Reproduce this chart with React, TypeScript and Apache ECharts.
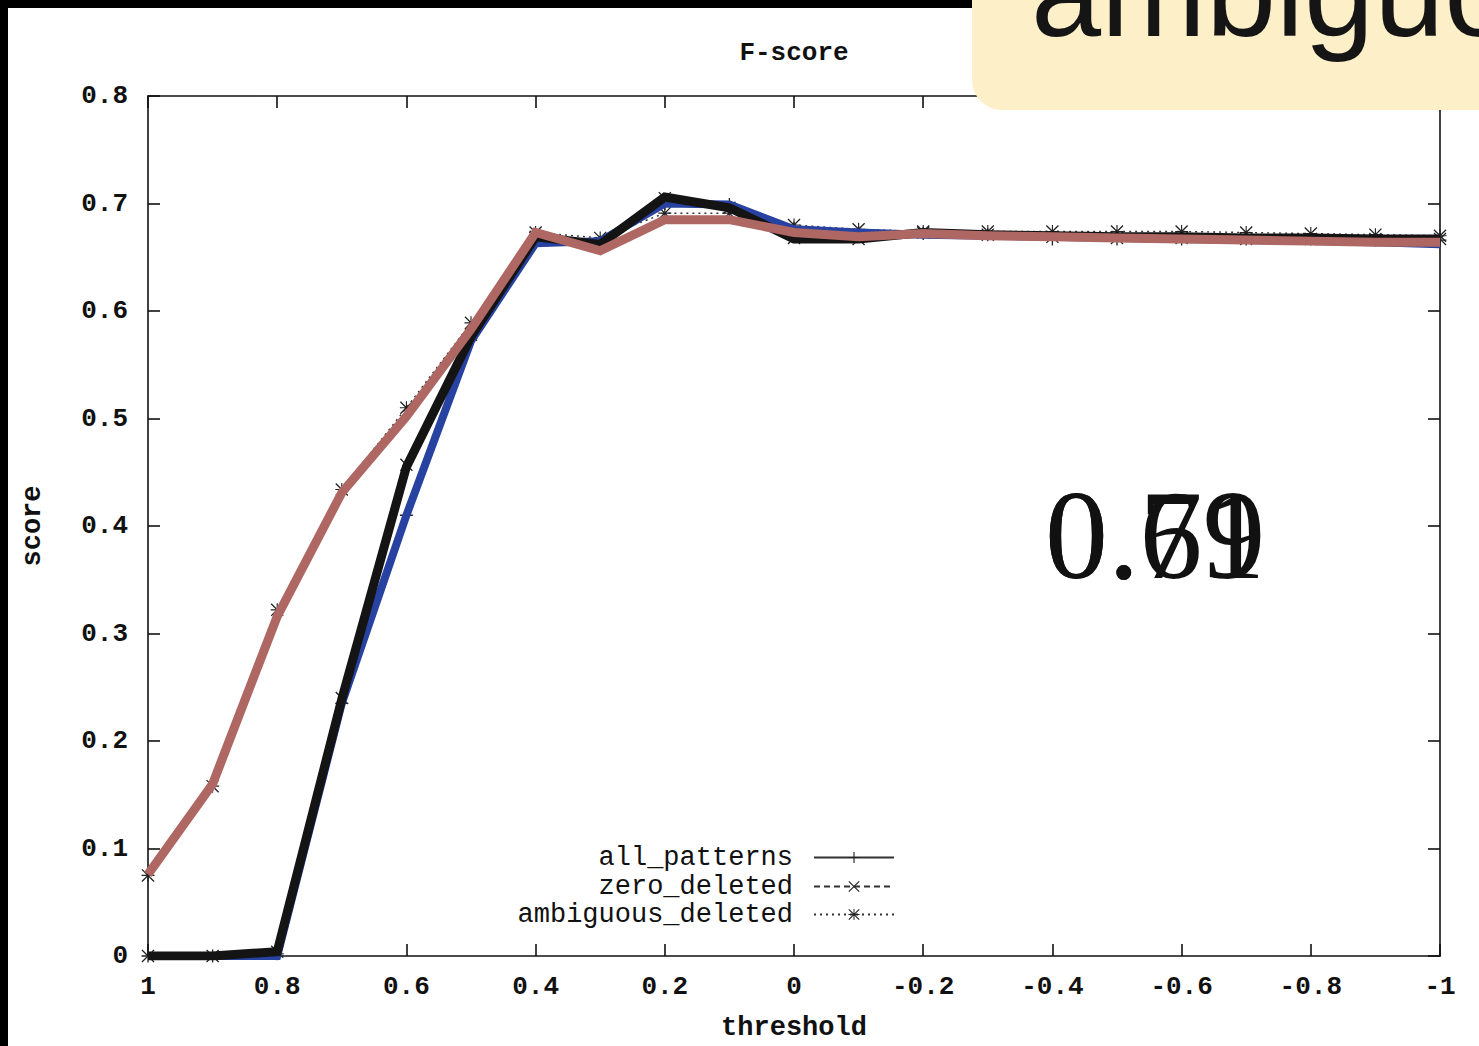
import React, { useEffect, useRef } from "react";
import * as echarts from "echarts";

// threshold values (x axis, reversed: 1 on the left, -1 on the right)
const thresholds = [1, 0.9, 0.8, 0.7, 0.6, 0.5, 0.4, 0.3, 0.2, 0.1, 0, -0.1, -0.2, -0.3, -0.4, -0.5, -0.6, -0.7, -0.8, -0.9, -1];

// gnuplot series (thin, with point markers)
const allPatterns = [0, 0, 0.002, 0.235, 0.41, 0.575, 0.665, 0.664, 0.7, 0.699, 0.677, 0.673, 0.672, 0.671, 0.667, 0.667, 0.667, 0.667, 0.667, 0.666, 0.666];
const zeroDeleted = [0, 0, 0.004, 0.24, 0.457, 0.578, 0.669, 0.662, 0.705, 0.696, 0.668, 0.667, 0.673, 0.671, 0.669, 0.668, 0.668, 0.667, 0.667, 0.667, 0.667];
const ambiguousDeleted = [0.075, 0.158, 0.322, 0.434, 0.51, 0.589, 0.673, 0.668, 0.691, 0.691, 0.68, 0.676, 0.674, 0.674, 0.674, 0.674, 0.674, 0.673, 0.672, 0.671, 0.67];

// hand-drawn thick overlays
const blueOverlay = [0, 0, 0, 0.235, 0.41, 0.572, 0.663, 0.665, 0.7, 0.699, 0.676, 0.673, 0.671, 0.67, 0.669, 0.668, 0.667, 0.666, 0.665, 0.664, 0.662];
const blackOverlay = [0, 0, 0.004, 0.239, 0.455, 0.576, 0.669, 0.662, 0.706, 0.696, 0.667, 0.667, 0.673, 0.671, 0.67, 0.669, 0.669, 0.668, 0.668, 0.667, 0.667];
const brownOverlay = [0.076, 0.16, 0.316, 0.431, 0.502, 0.583, 0.673, 0.656, 0.685, 0.685, 0.673, 0.669, 0.672, 0.67, 0.669, 0.668, 0.667, 0.666, 0.665, 0.664, 0.664];

const seriesNames = ["all_patterns", "zero_deleted", "ambiguous_deleted"];
const overlayTexts = ["0.79", "0.61"];
const bannerText = "ambiguous";

const PLUS = "path://M0,6.3H14V7.7H0Z M6.3,0H7.7V14H6.3Z";
const CROSS = "path://M1,0 L14,13 L13,14 L0,1Z M13,0 L14,1 L1,14 L0,13Z";
const STAR = "path://M0,6.4H14V7.6H0Z M6.4,0H7.6V14H6.4Z M1,0 L14,13 L13,14 L0,1Z M13,0 L14,1 L1,14 L0,13Z";

const MONO = "'Liberation Mono', 'DejaVu Sans Mono', monospace";

function pairs(ys: number[]) {
  return thresholds.map((x, i) => [x, ys[i]]);
}

function fmt(v: number) {
  const r = Math.round(v * 10) / 10;
  if (r === 0) return "0";
  if (Number.isInteger(r)) return String(r);
  return r.toFixed(1);
}

export default function App() {
  const ref = useRef<HTMLDivElement>(null);
  useEffect(() => {
    document.body.style.margin = "0";
    document.body.style.overflow = "hidden";
    const chart = echarts.init(ref.current!, null, { renderer: "svg" });
    const axisLine = { show: true, onZero: false, lineStyle: { color: "#111", width: 1.6 } };
    const tick = { show: true, inside: true, length: 12, lineStyle: { color: "#111", width: 1.6 } };
    const labelStyle = { fontFamily: MONO, fontSize: 26, fontWeight: "bold" as const, color: "#111" };
    const thin = (name: string, ys: number[], type: any, symbol: string) => ({
      name,
      type: "line",
      data: pairs(ys),
      symbol,
      symbolSize: 13,
      showSymbol: true,
      z: 2,
      lineStyle: { color: "#333", width: 1.4, type },
      itemStyle: { color: "#222" },
    });
    const thick = (ys: number[], color: string, width: number, z: number) => ({
      type: "line",
      data: pairs(ys),
      showSymbol: false,
      symbol: "none",
      z,
      lineStyle: { color, width, join: "miter", cap: "butt" },
      silent: true,
    });
    const legendRows = [844, 873, 901];
    chart.setOption({
      animation: false,
      backgroundColor: "#ffffff",
      title: {
        text: "F-score",
        left: 794,
        textAlign: "center",
        top: 40,
        padding: 0,
        textStyle: { fontFamily: MONO, fontSize: 26, fontWeight: "bold", color: "#111" },
      },
      grid: { left: 148, right: 39, top: 96, bottom: 89 },
      legend: seriesNames.map((n, i) => ({
        data: [n],
        orient: "vertical",
        align: "right",
        right: 584,
        top: legendRows[i],
        padding: 0,
        itemWidth: 80,
        itemHeight: 14,
        selectedMode: false,
        textStyle: { fontFamily: MONO, fontSize: 27, color: "#111", padding: [0, 16, 0, 0] },
      })),
      xAxis: [
        {
          type: "value",
          min: -1,
          max: 1,
          interval: 0.2,
          inverse: true,
          position: "bottom",
          name: "threshold",
          nameLocation: "middle",
          nameGap: 58,
          nameTextStyle: { fontFamily: MONO, fontSize: 27, fontWeight: "bold", color: "#111" },
          axisLine,
          axisTick: tick,
          splitLine: { show: false },
          axisLabel: { ...labelStyle, margin: 18, formatter: fmt },
        },
        {
          type: "value",
          min: -1,
          max: 1,
          interval: 0.2,
          inverse: true,
          position: "top",
          axisLine,
          axisTick: tick,
          splitLine: { show: false },
          axisLabel: { show: false },
        },
      ],
      yAxis: [
        {
          type: "value",
          min: 0,
          max: 0.8,
          interval: 0.1,
          position: "left",
          name: "score",
          nameLocation: "middle",
          nameGap: 102,
          nameTextStyle: { fontFamily: MONO, fontSize: 27, fontWeight: "bold", color: "#111" },
          axisLine,
          axisTick: tick,
          splitLine: { show: false },
          axisLabel: { ...labelStyle, margin: 20, formatter: fmt },
        },
        {
          type: "value",
          min: 0,
          max: 0.8,
          interval: 0.1,
          position: "right",
          axisLine,
          axisTick: tick,
          splitLine: { show: false },
          axisLabel: { show: false },
        },
      ],
      series: [
        thin(seriesNames[0], allPatterns, "solid", PLUS),
        thin(seriesNames[1], zeroDeleted, [6, 4], CROSS),
        thin(seriesNames[2], ambiguousDeleted, [2, 4], STAR),
        thick(blueOverlay, "#2742a0", 8, 3),
        thick(blackOverlay, "#141414", 9, 4),
        thick(brownOverlay, "#ae6762", 9, 5),
      ],
      graphic: [
        { type: "rect", z: 100, shape: { x: 0, y: 0, width: 980, height: 8 }, style: { fill: "#000" } },
        { type: "rect", z: 100, shape: { x: 0, y: 0, width: 8, height: 1046 }, style: { fill: "#000" } },
        {
          type: "rect",
          z: 101,
          shape: { x: 972, y: -40, width: 560, height: 150, r: 30 },
          style: { fill: "#fdefc8" },
        },
        {
          type: "text",
          z: 102,
          x: 1031,
          y: -8,
          style: {
            text: bannerText,
            fontFamily: "'Liberation Sans', Arial, sans-serif",
            fontSize: 126,
            fill: "#151515",
            verticalAlign: "middle",
            align: "left",
          },
        },
        ...overlayTexts.map((t) => ({
          type: "text",
          z: 102,
          x: 1045,
          y: 535,
          style: {
            text: t,
            fontFamily: "'Liberation Serif', 'Times New Roman', serif",
            fontSize: 126,
            fill: "#111",
            verticalAlign: "middle",
            align: "left",
          },
        })),
      ],
    });
    return () => chart.dispose();
  }, []);
  return <div ref={ref} style={{ width: 1479, height: 1046 }} />;
}
